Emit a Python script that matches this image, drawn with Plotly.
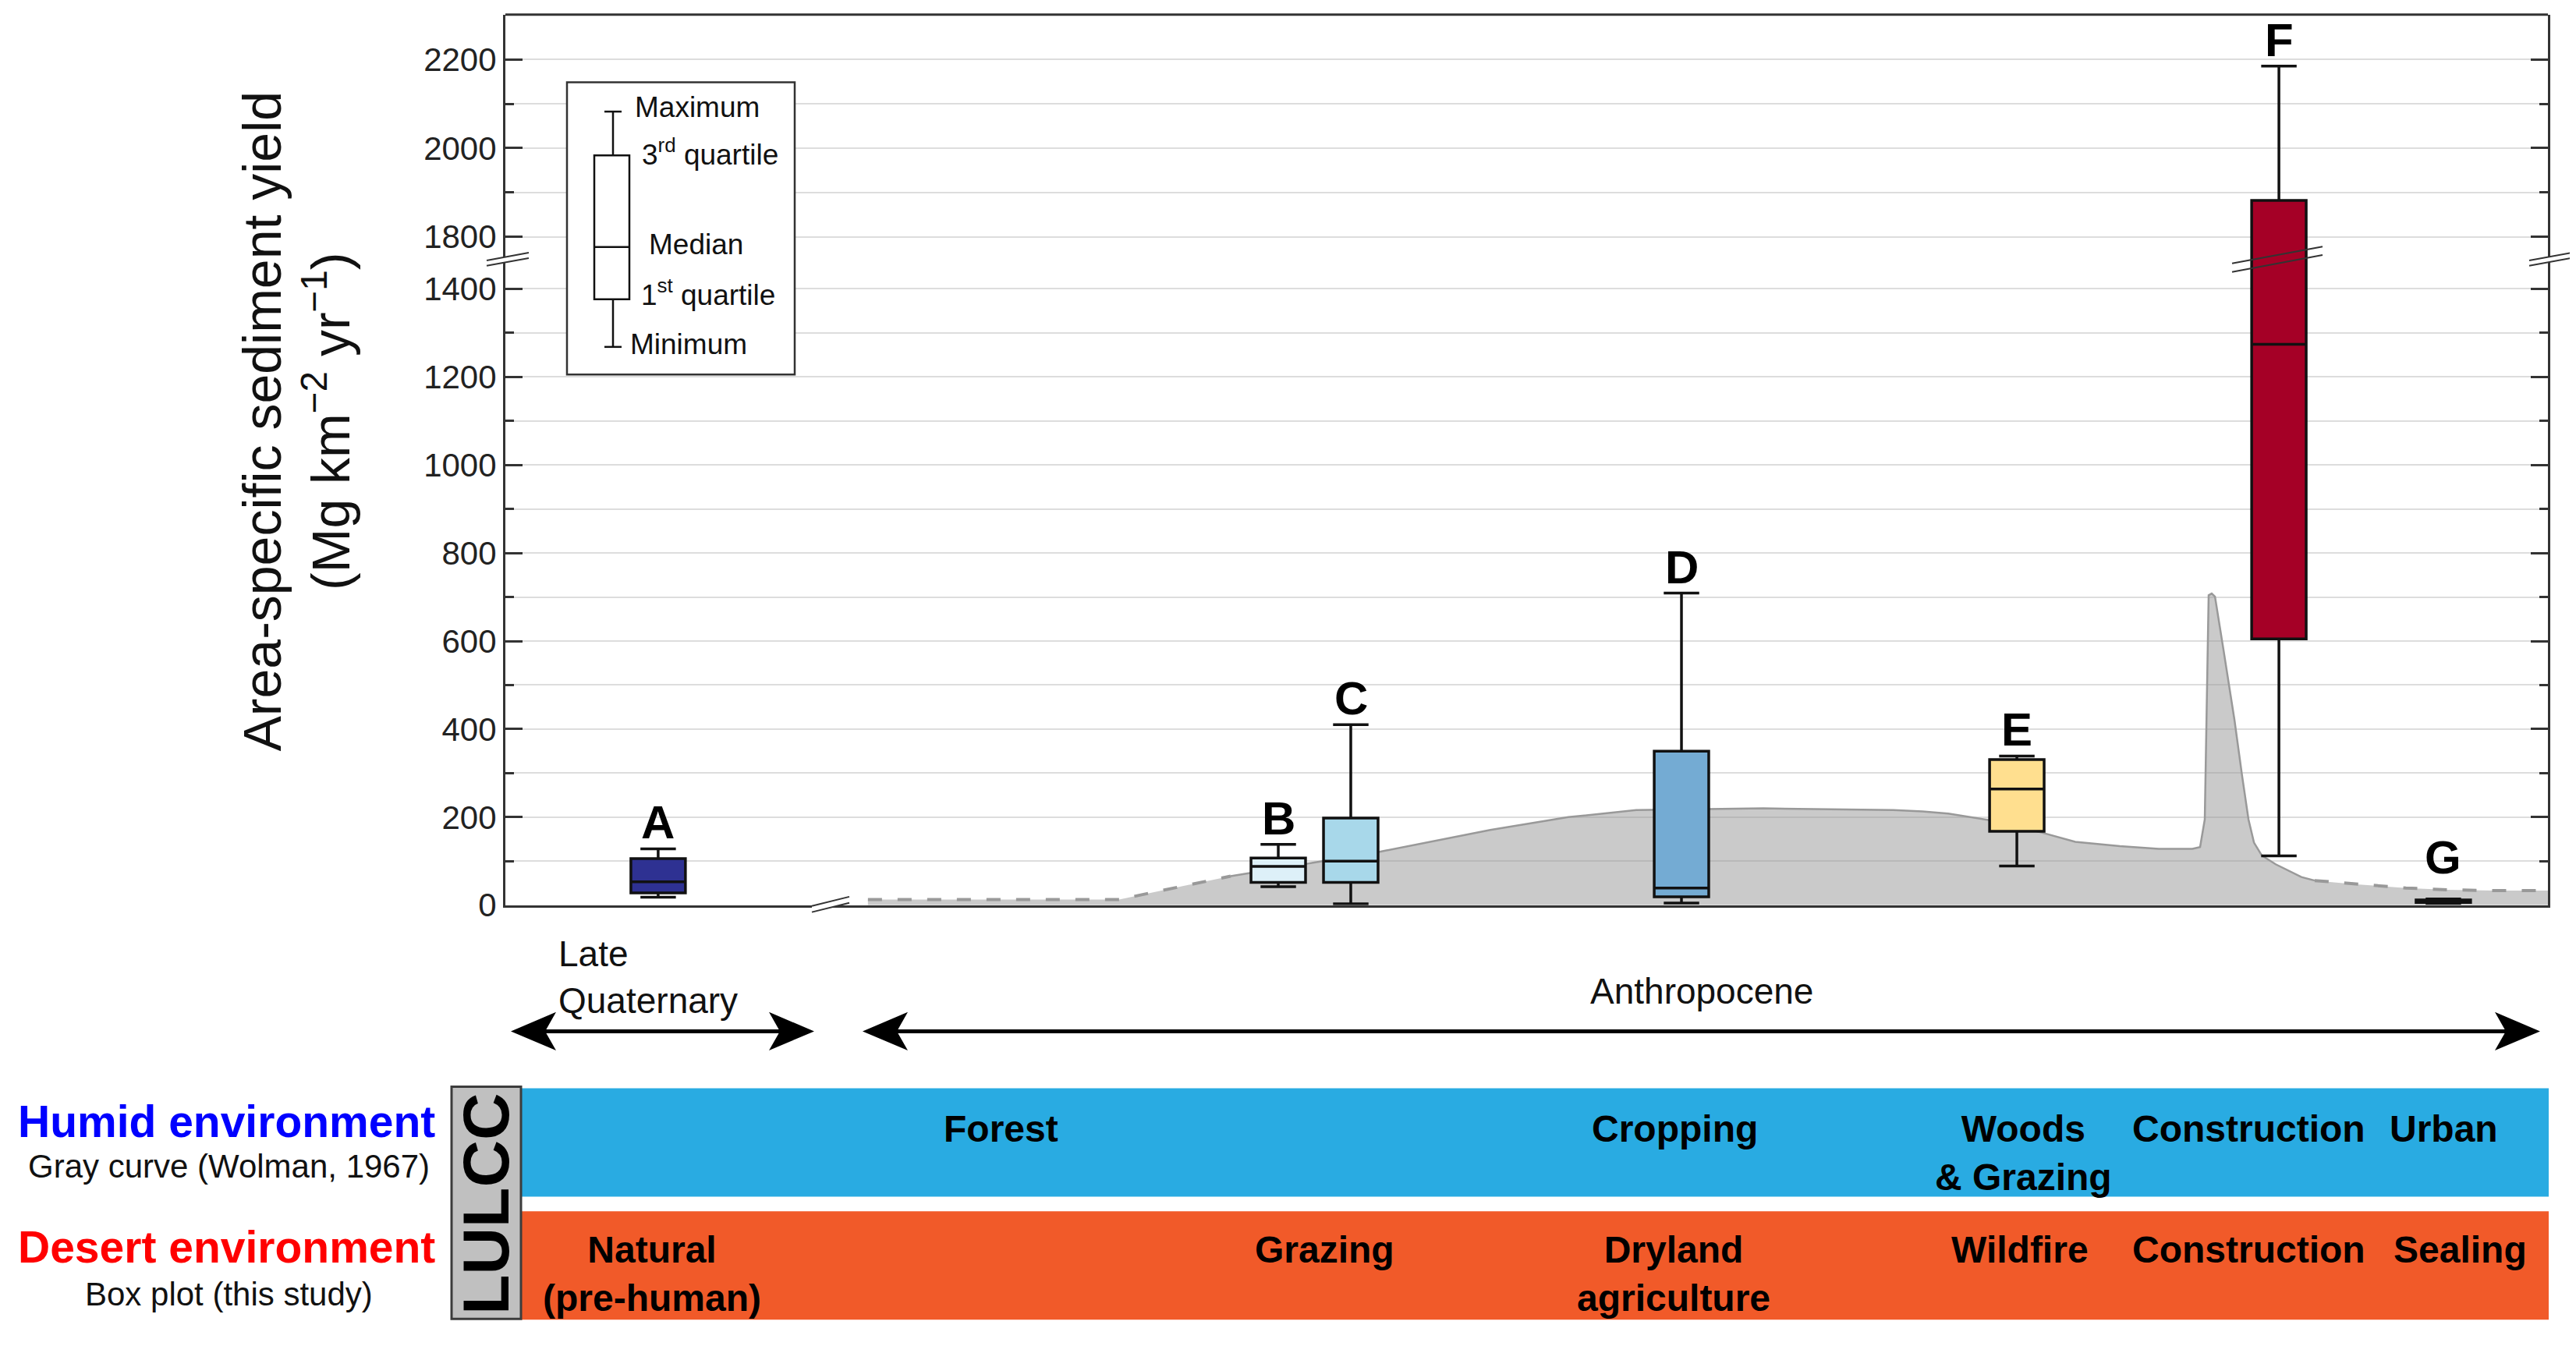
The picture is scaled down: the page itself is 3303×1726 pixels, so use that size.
import plotly.graph_objects as go

W, H = 3303, 1726
FONT = "Arial, 'Liberation Sans', Helvetica, sans-serif"


def PX(x):
    return x / W


def PY(y):
    return 1 - y / H


# ---------------- data ----------------
box_labels = ["A", "B", "C", "D", "E", "F", "G"]
box_pos = [7.48, 37.84, 41.39, 57.58, 74.0, 86.83, 94.88]
box_min = [18, 42, 3, 5, 89, 112, 4]
box_q1 = [28, 52, 52, 19, 168, 605, 6]
box_med = [53, 88, 100, 39, 264, 1274, 9]
box_q3 = [106, 107, 198, 350, 331, 1882, 12]
box_max = [128, 138, 410, 709, 339, 2185, 14]
box_colors = ["#2E3192", "#DDF0F8", "#A8D8EA", "#74ABD3", "#FFDF8F", "#A50026", "#000000"]

# Wolman (1967) gray curve
curve_x = [17.75, 30.05, 35.51, 42.76, 48.22, 52.04, 55.36, 58.92, 61.59, 67.96, 69.38,
           70.64, 72.55, 75.22, 76.86, 79.04, 80.95, 82.59, 82.97, 83.20, 83.28, 83.39,
           83.54, 83.70, 84.12, 84.65, 85.03, 85.34, 85.61, 85.99, 86.67, 87.93, 88.58,
           90.49, 93.05, 95.07, 97.36, 100.0]
curve_y = [13, 13, 66, 121, 171, 200, 216, 218, 220, 216, 213,
           208, 194, 165, 144, 134, 128, 128, 132, 195, 434, 704,
           708, 701, 579, 422, 293, 195, 142, 113, 93, 64, 56,
           48, 39, 35, 33, 33]
SOLID_START, SOLID_END = 2, 32  # indices of the solid part of the curve

Y_LOW = [0, 1470]
Y_HIGH = [1752, 2301]

humid_labels = ["Forest", "Cropping", "Woods<br>& Grazing", "Construction", "Urban"]
desert_labels = ["Natural<br>(pre-human)", "Grazing", "Dryland<br>agriculture", "Wildfire",
                 "Construction", "Sealing"]

# ---------------- figure ----------------
fig = go.Figure()

fig.add_trace(go.Scatter(x=curve_x, y=curve_y, mode="lines", fill="tozeroy",
                         fillcolor="rgba(150,150,150,0.5)", line=dict(width=0),
                         hoverinfo="skip", showlegend=False, xaxis="x", yaxis="y"))
fig.add_trace(go.Scatter(x=curve_x[:SOLID_START + 1], y=curve_y[:SOLID_START + 1], mode="lines",
                         line=dict(color="#999999", width=4, dash="18px,20px"),
                         hoverinfo="skip", showlegend=False, xaxis="x", yaxis="y"))
fig.add_trace(go.Scatter(x=curve_x[SOLID_START:SOLID_END + 1], y=curve_y[SOLID_START:SOLID_END + 1],
                         mode="lines", line=dict(color="#999999", width=2.5),
                         hoverinfo="skip", showlegend=False, xaxis="x", yaxis="y"))
fig.add_trace(go.Scatter(x=curve_x[SOLID_END:], y=curve_y[SOLID_END:], mode="lines",
                         line=dict(color="#999999", width=4, dash="18px,20px"),
                         hoverinfo="skip", showlegend=False, xaxis="x", yaxis="y"))

BOX_W = 2.67
annotations = []
for i, lab in enumerate(box_labels):
    axes = ["y3", "y2"] if box_max[i] > Y_LOW[1] else ["y3"]
    for ya in axes:
        fig.add_trace(go.Box(
            x=[box_pos[i]], q1=[box_q1[i]], median=[box_med[i]], q3=[box_q3[i]],
            lowerfence=[box_min[i]], upperfence=[box_max[i]], orientation="v",
            width=BOX_W, whiskerwidth=0.65, fillcolor=box_colors[i],
            line=dict(color="#111111", width=3.5), boxpoints=False,
            hoverinfo="skip", showlegend=False, xaxis="x", yaxis=ya))
    annotations.append(dict(x=box_pos[i], y=box_max[i], xref="x", yref=axes[-1],
                            text="<b>%s</b>" % lab, showarrow=False, xanchor="center",
                            yanchor="bottom", yshift=(18 if lab == "G" else -2),
                            font=dict(family=FONT, size=60, color="#000")))

axis_common = dict(ticks="inside", ticklen=22, tickwidth=2.5, tickcolor="#333",
                   showgrid=True, gridcolor="#DDDDDD", gridwidth=2,
                   showline=True, linecolor="#333", linewidth=3, mirror="ticks",
                   zeroline=False, tickmode="linear", tick0=0, dtick=200,
                   tickfont=dict(family=FONT, size=42, color="#222"),
                   minor=dict(ticks="inside", ticklen=11, tickwidth=2.5, tickcolor="#333",
                              dtick=100, tick0=0, showgrid=True, gridcolor="#DDDDDD",
                              gridwidth=2),
                   anchor="x")

fig.update_layout(
    width=W, height=H, margin=dict(l=0, r=0, t=0, b=0),
    paper_bgcolor="white", plot_bgcolor="white", showlegend=False,
    xaxis=dict(domain=[PX(640), PX(3259)], range=[0, 100], showticklabels=False,
               ticks="", showgrid=False, zeroline=False, showline=True,
               linecolor="#333", linewidth=3, anchor="y"),
    yaxis=dict(domain=[PY(1169), PY(327.5)], range=Y_LOW, **axis_common),
    yaxis2=dict(domain=[PY(327.5), PY(11)], range=Y_HIGH, **axis_common),
    yaxis3=dict(overlaying="y", range=Y_LOW, visible=False, showgrid=False,
                zeroline=False, anchor="x"),
)

shapes = []


def line(x0, y0, x1, y1, color="#333", width=3):
    shapes.append(dict(type="line", xref="paper", yref="paper", x0=PX(x0), y0=PY(y0),
                       x1=PX(x1), y1=PY(y1), line=dict(color=color, width=width)))


def rect(x0, y0, x1, y1, fill, lc=None, lw=0):
    shapes.append(dict(type="rect", xref="paper", yref="paper", x0=PX(x0), y0=PY(y0),
                       x1=PX(x1), y1=PY(y1), fillcolor=fill,
                       line=dict(color=lc or fill, width=lw)))


def path(pts, fill, lc=None, lw=0):
    d = "M " + " L ".join("%f,%f" % (PX(a), PY(b)) for a, b in pts) + " Z"
    shapes.append(dict(type="path", xref="paper", yref="paper", path=d, fillcolor=fill,
                       line=dict(color=lc or fill, width=lw)))


# top frame line
line(640, 11, 3259, 11)


# axis break marks
def brk(cx, cy, dx=27, rise=5, gap=3.5, fill=True):
    if fill:
        path([(cx - dx, cy + rise + gap), (cx + dx, cy - rise + gap),
              (cx + dx, cy - rise - gap), (cx - dx, cy + rise - gap)], "white")
    line(cx - dx, cy + rise - gap, cx + dx, cy - rise - gap, "#333", 2)
    line(cx - dx, cy + rise + gap, cx + dx, cy - rise + gap, "#333", 2)


brk(643, 329)
brk(3262, 329)
brk(1057, 1168, dx=24, rise=6, gap=4)
brk(2912, 329, dx=58, rise=11, gap=5.5, fill=False)

# legend box inside the plot
rect(719, 99, 1011, 479, "white", "#333", 2.5)
line(778, 137, 778, 194, "#111", 2.5)
line(778, 381, 778, 443, "#111", 2.5)
line(767, 137, 789, 137, "#111", 2.5)
line(767, 443, 789, 443, "#111", 2.5)
rect(754, 194, 799, 381, "white", "#111", 2.5)
line(754, 313, 799, 313, "#111", 2.5)

leg_items = [("Maximum", 804, 131), ("3<sup>rd</sup> quartile", 813, 190),
             ("Median", 822, 310), ("1<sup>st</sup> quartile", 812, 373),
             ("Minimum", 798, 440)]
for t, x, y in leg_items:
    annotations.append(dict(x=PX(x), y=PY(y), xref="paper", yref="paper", text=t,
                            showarrow=False, xanchor="left", yanchor="middle",
                            font=dict(family=FONT, size=37, color="#111")))


# period arrows
def arrow(x0, x1, y):
    line(x0 + 40, y, x1 - 40, y, "#000", 5)
    path([(x0, y), (x0 + 58, y - 25), (x0 + 44, y), (x0 + 58, y + 25)], "#000")
    path([(x1, y), (x1 - 58, y - 25), (x1 - 44, y), (x1 - 58, y + 25)], "#000")


arrow(647, 1036, 1333)
arrow(1098, 3249, 1333)


def label(text, x, y, size, color="#111", xanchor="center", align="center", angle=0):
    annotations.append(dict(x=PX(x), y=PY(y), xref="paper", yref="paper", text=text,
                            showarrow=False, xanchor=xanchor, yanchor="middle",
                            align=align, textangle=angle,
                            font=dict(family=FONT, size=size, color=color)))


label("Late<br>Quaternary", 706, 1263, 46, xanchor="left", align="left")
label("Anthropocene", 2174, 1281, 46)

# LULCC bands
rect(660, 1407, 3260, 1548, "#29ABE2")
rect(660, 1567, 3260, 1708, "#F15A29")
rect(571, 1405, 660, 1707, "#C0C0C0", "#3C3C3C", 3)
label("<b>LULCC</b>", 615.5, 1557, 84, color="#000", angle=-90)

humid_x = [1275, 2139, 2586, 2875, 3125]
desert_x = [828, 1690, 2138, 2582, 2875, 3146]
for t, x in zip(humid_labels, humid_x):
    label("<b>%s</b>" % t, x, 1491 if "<br>" in t else 1460, 48, color="#000")
for t, x in zip(desert_labels, desert_x):
    label("<b>%s</b>" % t, x, 1648 if "<br>" in t else 1617, 48, color="#000")

# left-hand labels
label("<b>Humid environment</b>", 282, 1450, 57, color="#0000FF")
label("Gray curve (Wolman, 1967)", 285, 1508, 42)
label("<b>Desert environment</b>", 282, 1613, 57, color="#FF0000")
label("Box plot (this study)", 285, 1675, 42)

# y-axis title
label("Area-specific sediment yield<br>(Mg km<sup>\u22122</sup> yr<sup>\u22121</sup>)",
      372, 540, 68, angle=-90)

fig.update_layout(shapes=shapes, annotations=annotations)
fig.write_html("out.html")
